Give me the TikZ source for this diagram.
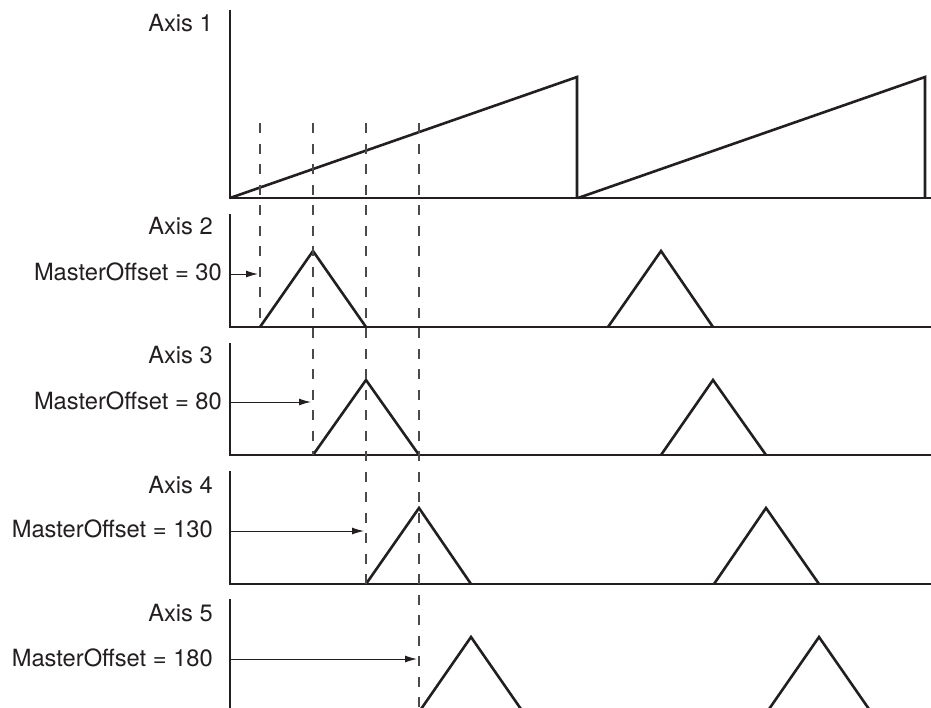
\documentclass[tikz,border=0pt]{standalone}
\usepackage{fontspec}
\setmainfont{TeX Gyre Heros}
\usetikzlibrary{arrows.meta}
\definecolor{ink}{HTML}{231F20}
\definecolor{markgray}{HTML}{4A4A4A}

\begin{document}
\begin{tikzpicture}[
  x=1pt, y=-1pt,
  >={Latex[length=12pt,width=7pt]},
  every node/.style={font=\fontsize{23.7}{28}\selectfont, inner sep=0pt, text=ink},
  axislabel/.style={anchor=east},
  offsetlabel/.style={anchor=east},
  axisline/.style={draw=ink, line width=2.6pt},
  signal/.style={draw=ink, line width=2.6pt, line join=miter},
  marker/.style={draw=markgray, line width=1.5pt, dash pattern=on 10pt off 10.5pt},
  offsetarrow/.style={->, draw=ink, line width=1pt, shorten >=2pt}
]
\useasboundingbox (0,0) rectangle (931,707);
\clip (0,0) rectangle (931,707);

% labels
\node[axislabel] (lab1) at (213,23.5)  {Axis 1};
\node[axislabel] (lab2) at (213,226.5) {Axis 2};
\node[axislabel] (lab3) at (213,355.5) {Axis 3};
\node[axislabel] (lab4) at (213,485)   {Axis 4};
\node[axislabel] (lab5) at (213,613.5) {Axis 5};

\node[offsetlabel] (off2) at (222,272) {MasterOffset = 30};
\node[offsetlabel] (off3) at (222,401) {MasterOffset = 80};
\node[offsetlabel] (off4) at (213,529) {MasterOffset = 130};
\node[offsetlabel] (off5) at (213,657.5) {MasterOffset = 180};

% axes
\draw[axisline] (230,10) -- (230,198) -- (931,198);
\draw[axisline] (230,214) -- (230,327) -- (931,327);
\draw[axisline] (230,343) -- (230,455) -- (931,455);
\draw[axisline] (230,471) -- (230,584) -- (931,584);
\draw[axisline] (230,599) -- (230,712) -- (931,712);

% master sawtooth
\draw[signal] (230,198) -- (577,77) -- (577,198);
\draw[signal] (578,198) -- (925,77) -- (925,198);

% slave cams
\draw[signal] (260,327) -- (313,251) -- (366,327);
\draw[signal] (608,327) -- (661,251) -- (713,327);
\draw[signal] (313,455) -- (366,380) -- (419,455);
\draw[signal] (661,455) -- (713,380) -- (766,455);
\draw[signal] (366,584) -- (419,508) -- (471,584);
\draw[signal] (714,584) -- (766,508) -- (819,584);
\draw[signal] (419,712) -- (471,637) -- (523,712);
\draw[signal] (767,712) -- (819,637) -- (871,712);

% dashed markers
\draw[marker] (260,123) -- (260,327);
\draw[marker] (313,123) -- (313,455);
\draw[marker] (366,123) -- (366,584);
\draw[marker] (419,123) -- (419,707);

% offset arrows
\coordinate (s2) at (230,274);  \coordinate (t2) at (260,274);
\coordinate (s3) at (230,402);  \coordinate (t3) at (313,402);
\coordinate (s4) at (230,531);  \coordinate (t4) at (366,531);
\coordinate (s5) at (230,659);  \coordinate (t5) at (419,659);
\draw[offsetarrow] (s2) -- (t2);
\draw[offsetarrow] (s3) -- (t3);
\draw[offsetarrow] (s4) -- (t4);
\draw[offsetarrow] (s5) -- (t5);

\end{tikzpicture}
\end{document}
